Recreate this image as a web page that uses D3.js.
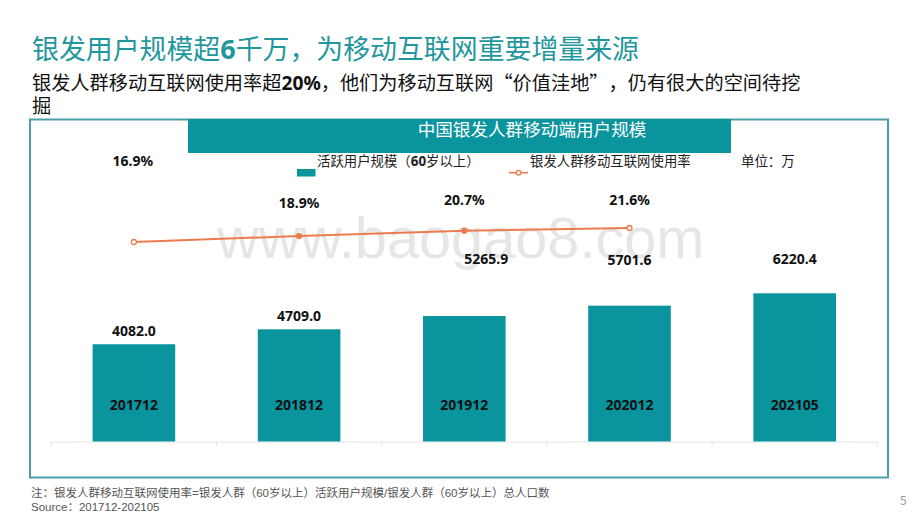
<!DOCTYPE html>
<html>
<head>
<meta charset="utf-8">
<script src="https://cdn.jsdelivr.net/npm/d3@7/dist/d3.min.js"></script>
<style>
  html, body { margin: 0; padding: 0; background: #fff; }
  text { font-family: "Noto Sans CJK SC", sans-serif; text-spacing-trim: space-all; }
  .latin { font-family: "Noto Sans", "Noto Sans CJK SC", sans-serif; }
</style>
</head>
<body>
<div id="chart"></div>
<script>
const periods = ["201712", "201812", "201912", "202012", "202105"];
const users = [4082.0, 4709.0, 5265.9, 5701.6, 6220.4];
const ratePeriods = ["201712", "201812", "201912", "202012"];
const rates = [16.9, 18.9, 20.7, 21.6];

const TEAL = "#0a949e";
const ORANGE = "#ec7c50";

const svg = d3.select("#chart").append("svg")
    .attr("width", 920)
    .attr("height", 518)
    .style("display", "block");

// Watermark sits under everything
svg.append("text")
    .attr("x", 217).attr("y", 258)
    .attr("font-size", 57.7)
    .attr("fill", "#e6e6e6")
    .style("font-family", "'Liberation Sans', sans-serif")
    .text("www.baogao8.com");

// Headline, the digits are bold in the original
const title = svg.append("text").attr("x", 32).attr("y", 59)
    .attr("font-size", 26.9).attr("fill", "#1f979d");
title.append("tspan").text("银发用户规模超");
title.append("tspan").attr("class", "latin").attr("font-weight", 700).text("6");
title.append("tspan").text("千万，为移动互联网重要增量来源");

const sub = svg.append("text").attr("x", 32).attr("y", 90)
    .attr("font-size", 19.2).attr("fill", "#111");
sub.append("tspan").text("银发人群移动互联网使用率超");
sub.append("tspan").attr("class", "latin").attr("font-weight", 700).text("20%");
sub.append("tspan").text("，他们为移动互联网“价值洼地”，仍有很大的空间待挖");
svg.append("text").attr("x", 32).attr("y", 113)
    .attr("font-size", 19.2).attr("fill", "#111").text("掘");

// Panel and banner
svg.append("rect")
    .attr("x", 30).attr("y", 119.5).attr("width", 858).attr("height", 358)
    .attr("fill", "none").attr("stroke", "#4a9fa5").attr("stroke-width", 2);
svg.append("rect")
    .attr("x", 188).attr("y", 119).attr("width", 543).attr("height", 34)
    .attr("fill", TEAL);
svg.append("text")
    .attr("x", 532).attr("y", 135.5)
    .attr("text-anchor", "middle")
    .attr("font-size", 17.6).attr("fill", "#fff")
    .text("中国银发人群移动端用户规模");

// Scales
const x = d3.scaleBand().domain(periods).range([51.3, 877.3])
    .paddingInner(0.5).paddingOuter(0.25);
const y = d3.scaleLinear().domain([0, 6220.4]).range([441.5, 293.3]);
const yRate = d3.scaleLinear().domain([16.9, 21.6]).range([242, 228]);
const xMid = d => x(d) + x.bandwidth() / 2;

// Axis line with ticks between the categories
const xAxis = d3.axisBottom(x).tickSize(0).tickFormat("");
const axisG = svg.append("g").attr("transform", "translate(0,441.5)").call(xAxis);
axisG.select(".domain").attr("stroke", "#e4e4e4").attr("stroke-width", 1);
const step = x.step();
axisG.selectAll("line.sep")
    .data(d3.range(periods.length + 1))
    .enter()
    .append("line")
    .attr("class", "sep")
    .attr("x1", i => x(periods[0]) - step / 4 + i * step)
    .attr("x2", i => x(periods[0]) - step / 4 + i * step)
    .attr("y1", 0).attr("y2", 5)
    .attr("stroke", "#e4e4e4");

// Bars
svg.selectAll("rect.bar")
    .data(users)
    .enter()
    .append("rect")
    .attr("class", "bar")
    .attr("x", (d, i) => x(periods[i]))
    .attr("y", d => y(d))
    .attr("width", x.bandwidth())
    .attr("height", d => y(0) - y(d))
    .attr("fill", TEAL);

// Period labels sit inside the bars
svg.selectAll("text.period")
    .data(periods)
    .enter()
    .append("text")
    .attr("class", "period latin")
    .attr("x", d => xMid(d))
    .attr("y", 410)
    .attr("text-anchor", "middle")
    .attr("font-size", 14).attr("font-weight", 700).attr("fill", "#111")
    .text(d => d);

// Value labels were dragged by hand in the original, so offsets differ per bar
const userLabelDx = [0, 0, 22, 0, 0];
const userLabelDy = [-8, -8, -52, -41, -29];
svg.selectAll("text.value")
    .data(users)
    .enter()
    .append("text")
    .attr("class", "value latin")
    .attr("x", (d, i) => xMid(periods[i]) + userLabelDx[i])
    .attr("y", (d, i) => y(d) + userLabelDy[i])
    .attr("text-anchor", "middle")
    .attr("font-size", 14).attr("font-weight", 700).attr("fill", "#111")
    .text(d => d.toFixed(1));

// Rate line
const line = d3.line()
    .x((d, i) => xMid(ratePeriods[i]))
    .y(d => yRate(d));
svg.append("path")
    .datum(rates)
    .attr("d", line)
    .attr("fill", "none")
    .attr("stroke", ORANGE)
    .attr("stroke-width", 2);
svg.selectAll("circle.rate")
    .data(rates)
    .enter()
    .append("circle")
    .attr("class", "rate")
    .attr("cx", (d, i) => xMid(ratePeriods[i]))
    .attr("cy", d => yRate(d))
    .attr("r", 2.5)
    .attr("fill", (d, i) => i === 0 || i === rates.length - 1 ? "#fff" : ORANGE)
    .attr("stroke", ORANGE)
    .attr("stroke-width", 1.3);

const rateLabelDy = [-76, -28, -26, -23];
svg.selectAll("text.rate")
    .data(rates)
    .enter()
    .append("text")
    .attr("class", "rate latin")
    .attr("x", (d, i) => xMid(ratePeriods[i]) - (i === 0 ? 1 : 0))
    .attr("y", (d, i) => yRate(d) + rateLabelDy[i])
    .attr("text-anchor", "middle")
    .attr("font-size", 14).attr("font-weight", 700).attr("fill", "#111")
    .text(d => d.toFixed(1) + "%");

// Legend
svg.append("rect")
    .attr("x", 297).attr("y", 169).attr("width", 18.5).attr("height", 7.5)
    .attr("fill", TEAL);
const legendText = svg.append("text").attr("x", 317).attr("y", 166)
    .attr("font-size", 13.4).attr("fill", "#222");
legendText.append("tspan").text("活跃用户规模（");
legendText.append("tspan").attr("class", "latin").attr("font-weight", 700).text("60");
legendText.append("tspan").text("岁以上）");
svg.append("line")
    .attr("x1", 509).attr("x2", 528).attr("y1", 172.7).attr("y2", 172.7)
    .attr("stroke", ORANGE).attr("stroke-width", 1.6);
svg.append("circle")
    .attr("cx", 518.5).attr("cy", 172.7).attr("r", 2.4)
    .attr("fill", "#fff").attr("stroke", ORANGE).attr("stroke-width", 1.2);
svg.append("text").attr("x", 530).attr("y", 166)
    .attr("font-size", 13.4).attr("fill", "#222").text("银发人群移动互联网使用率");
svg.append("text").attr("x", 741).attr("y", 166)
    .attr("font-size", 13.4).attr("fill", "#222").text("单位：万");

// Footnotes and page number
svg.append("text").attr("x", 31).attr("y", 497)
    .attr("font-size", 11.5).attr("fill", "#555")
    .style("font-family", "'Liberation Sans', 'Noto Sans CJK SC', sans-serif")
    .text("注：银发人群移动互联网使用率=银发人群（60岁以上）活跃用户规模/银发人群（60岁以上）总人口数");
svg.append("text").attr("x", 31).attr("y", 511)
    .attr("font-size", 11.5).attr("fill", "#555")
    .style("font-family", "'Liberation Sans', 'Noto Sans CJK SC', sans-serif")
    .text("Source：201712-202105");
svg.append("text").attr("x", 900).attr("y", 505)
    .attr("font-size", 12).attr("fill", "#999").text("5");
</script>
</body>
</html>
